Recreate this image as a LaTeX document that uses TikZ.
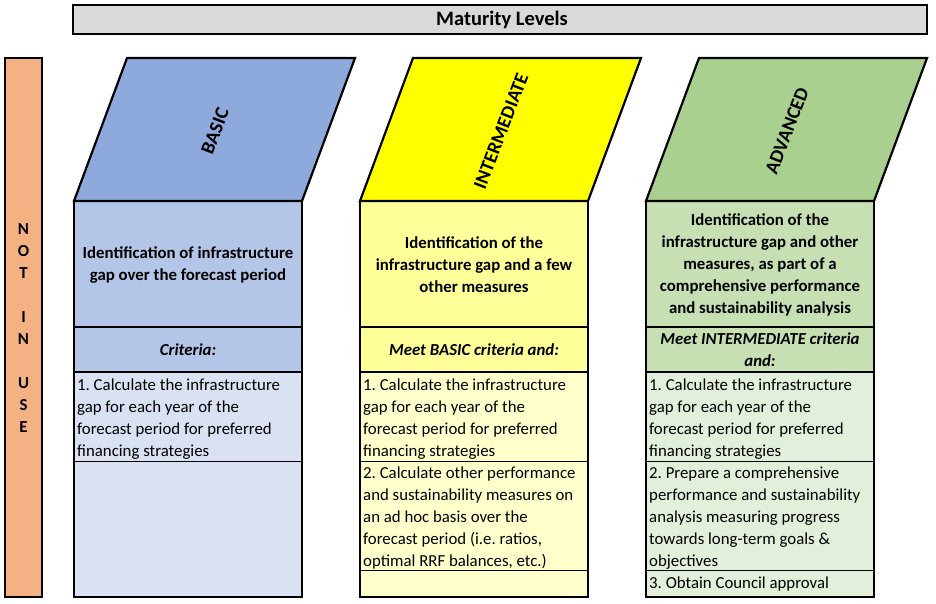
\documentclass[tikz,border=0pt]{standalone}
\usepackage{fontspec}
\setmainfont{Carlito}
\frenchspacing
\definecolor{hdrgray}{HTML}{D9D9D9}
\definecolor{notuse}{HTML}{F4B183}
\definecolor{bpar}{HTML}{8EA9DB}
\definecolor{bhead}{HTML}{B4C6E7}
\definecolor{brow}{HTML}{D9E1F2}
\definecolor{ipar}{HTML}{FFFF00}
\definecolor{ihead}{HTML}{FFFF99}
\definecolor{irow}{HTML}{FFFFCC}
\definecolor{apar}{HTML}{A9D08E}
\definecolor{ahead}{HTML}{C6E0B4}
\definecolor{arow}{HTML}{E2EFDA}
\newcommand\rowtext[1]{\begin{minipage}[t]{250pt}\fontsize{16.8}{22}\selectfont\frenchspacing\raggedright #1\end{minipage}}
\begin{document}
\begin{tikzpicture}[x=1pt,y=-1pt,line join=miter,
  thickline/.style={line width=2.2pt},
  thinline/.style={line width=1pt},
  headtxt/.style={font=\bfseries\fontsize{16.8}{22}\selectfont,align=center,inner sep=0pt},
  crittxt/.style={font=\bfseries\itshape\fontsize{16.8}{22}\selectfont,align=center,inner sep=0pt},
  rowtxt/.style={anchor=base west,inner sep=0pt},
  leveltxt/.style={font=\bfseries\fontsize{19.5}{24}\selectfont,inner sep=0pt,rotate=69}
]
\useasboundingbox (0,0) rectangle (936,604);
\fill[white] (0,0) rectangle (936,604);

% header bar
\draw[thickline,fill=hdrgray] (73,5) rectangle (927,34);
\node[font=\bfseries\fontsize{20.5}{24}\selectfont,inner sep=0pt] (maturity) at (502,19.5) {Maturity Levels};

% not in use
\draw[thickline,fill=notuse] (5,58) rectangle (42,597);
\node[anchor=base,inner sep=0pt,font=\bfseries\fontsize{16.8}{22}\selectfont] (notinuse) at (23.5,234)
  {\begin{minipage}[t]{30pt}\centering N\\O\\T\\\mbox{}\\I\\N\\\mbox{}\\U\\S\\E\end{minipage}};

% ---------- BASIC ----------
\fill[brow] (74,372) rectangle (302,597);
\fill[bhead] (74,201) rectangle (302,372);
\draw[thinline] (74,461) -- (302,461);
\draw[thickline] (74,327) -- (302,327) (74,372) -- (302,372);
\draw[thickline] (74,201) rectangle (302,597);
\draw[thickline,fill=bpar] (74,201) -- (127,58) -- (355,58) -- (302,201) -- cycle;
\node[leveltxt] (basic) at (215,131) {BASIC};
\node[headtxt] (bhead) at (188,265) {Identification of infrastructure\\gap over the forecast period};
\node[crittxt] (bcrit) at (188,350) {Criteria:};
\node[rowtxt] (brow1) at (77,390) {\rowtext{1. Calculate the infrastructure\\gap for each year of the\\forecast period for preferred\\financing strategies}};

% ---------- INTERMEDIATE ----------
\fill[irow] (360,372) rectangle (588,597);
\fill[ihead] (360,201) rectangle (588,372);
\draw[thinline] (360,461) -- (588,461) (360,570) -- (588,570);
\draw[thickline] (360,327) -- (588,327) (360,372) -- (588,372);
\draw[thickline] (360,201) rectangle (588,597);
\draw[thickline,fill=ipar] (360,201) -- (413,58) -- (641,58) -- (588,201) -- cycle;
\node[leveltxt] (inter) at (501,131) {INTERMEDIATE};
\node[headtxt] (ihead) at (474,265) {Identification of the\\infrastructure gap and a few\\other measures};
\node[crittxt] (icrit) at (474,350) {Meet BASIC criteria and:};
\node[rowtxt] (irow1) at (363,390) {\rowtext{1. Calculate the infrastructure\\gap for each year of the\\forecast period for preferred\\financing strategies}};
\node[rowtxt] (irow2) at (363,478) {\rowtext{2. Calculate other performance\\and sustainability measures on\\an ad hoc basis over the\\forecast period (i.e. ratios,\\optimal RRF balances, etc.)}};

% ---------- ADVANCED ----------
\fill[arow] (646,372) rectangle (874,597);
\fill[ahead] (646,201) rectangle (874,372);
\draw[thinline] (646,461) -- (874,461) (646,570) -- (874,570);
\draw[thickline] (646,327) -- (874,327) (646,372) -- (874,372);
\draw[thickline] (646,201) rectangle (874,597);
\draw[thickline,fill=apar] (646,201) -- (699,58) -- (927,58) -- (874,201) -- cycle;
\node[leveltxt] (adv) at (787,131) {ADVANCED};
\node[headtxt] (ahead) at (760,265) {Identification of the\\infrastructure gap and other\\measures, as part of a\\comprehensive performance\\and sustainability analysis};
\node[crittxt] (acrit) at (760,350) {Meet INTERMEDIATE criteria\\and:};
\node[rowtxt] (arow1) at (649,390) {\rowtext{1. Calculate the infrastructure\\gap for each year of the\\forecast period for preferred\\financing strategies}};
\node[rowtxt] (arow2) at (649,478) {\rowtext{2. Prepare a comprehensive\\performance and sustainability\\analysis measuring progress\\towards long-term goals \&\\objectives}};
\node[rowtxt] (arow3) at (649,588) {\rowtext{3. Obtain Council approval}};
\end{tikzpicture}
\end{document}
